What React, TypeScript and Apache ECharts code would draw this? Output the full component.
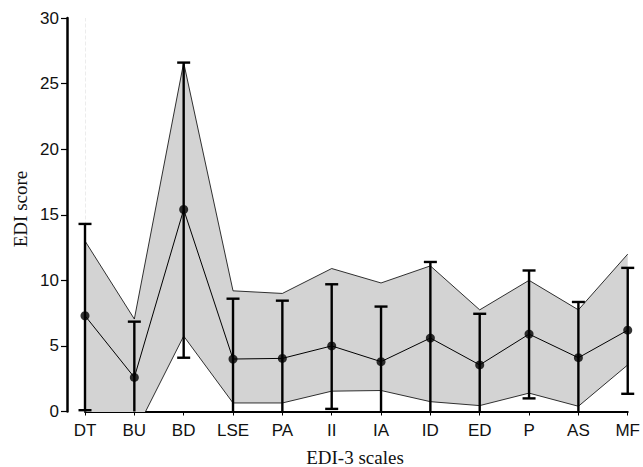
import React, { useEffect, useRef } from "react";
import * as echarts from "echarts";

const categories = ["DT", "BU", "BD", "LSE", "PA", "II", "IA", "ID", "ED", "P", "AS", "MF"];
const meanScores = [7.3, 2.6, 15.4, 4.0, 4.05, 5.0, 3.8, 5.6, 3.55, 5.9, 4.1, 6.2];
const errUpper = [14.3, 6.85, 26.6, 8.6, 8.45, 9.7, 8.0, 11.4, 7.45, 10.75, 8.35, 10.95];
const errLower = [0.1, -1.6, 4.1, -0.5, -0.3, 0.2, -0.4, -0.2, -0.3, 1.0, -0.1, 1.35];
const normUpper = [13.0, 7.05, 26.6, 9.2, 9.0, 10.9, 9.8, 11.1, 7.75, 10.0, 7.75, 12.0];
const normLower = [0, -1.7, 5.75, 0.65, 0.65, 1.55, 1.6, 0.75, 0.45, 1.4, 0.4, 3.55];
const yTicks = { min: 0, max: 30, interval: 5 };

const SANS = "'Liberation Sans', Arial, Helvetica, sans-serif";
const SERIF = "'Liberation Serif', 'Times New Roman', serif";

export default function App() {
  const ref = useRef<HTMLDivElement>(null);

  useEffect(() => {
    document.body.style.margin = "0";
    if (!ref.current) return;
    const chart = echarts.init(ref.current, undefined, { renderer: "svg" });

    const bandDiff = normUpper.map((u, i) => +(u - normLower[i]).toFixed(3));
    const errData = categories.map((_, i) => [i, errLower[i], errUpper[i]]);

    chart.setOption({
      animation: false,
      backgroundColor: "#fff",
      grid: { left: 85, right: 13, top: 18, bottom: 55.5, containLabel: false },
      xAxis: {
        type: "category",
        data: categories,
        boundaryGap: false,
        axisLine: { show: true, lineStyle: { color: "#000", width: 2 } },
        axisTick: { show: true, length: 4, lineStyle: { color: "#000", width: 1 } },
        axisLabel: { color: "#111", fontFamily: SANS, fontSize: 17, margin: 10 },
        splitLine: { show: false },
      },
      yAxis: {
        type: "value",
        min: yTicks.min,
        max: yTicks.max,
        interval: yTicks.interval,
        offset: 18,
        axisLine: { show: true, lineStyle: { color: "#000", width: 2.5 } },
        axisTick: { show: true, length: 6, lineStyle: { color: "#000", width: 1.2 } },
        axisLabel: { color: "#111", fontFamily: SANS, fontSize: 17, margin: 8 },
        splitLine: { show: false },
      },
      graphic: [
        {
          type: "text",
          x: 20,
          y: 209,
          rotation: Math.PI / 2,
          style: {
            text: "EDI score",
            fontFamily: SERIF,
            fontSize: 19,
            fill: "#111111",
            align: "center",
            verticalAlign: "middle",
          },
        },
        {
          type: "text",
          x: 355,
          y: 457,
          style: {
            text: "EDI-3 scales",
            fontFamily: SERIF,
            fontSize: 19,
            fill: "#111111",
            align: "center",
            verticalAlign: "middle",
          },
        },
      ],
      series: [
        {
          type: "line",
          data: [],
          z: 0,
          silent: true,
          markLine: {
            silent: true,
            symbol: "none",
            z: 0,
            label: { show: false },
            lineStyle: { color: "#ececec", type: "dashed", width: 1 },
            data: [{ xAxis: "DT" }],
          },
        },
        {
          name: "lower",
          type: "line",
          data: normLower,
          stack: "band",
          stackStrategy: "all",
          symbol: "none",
          z: 6,
          lineStyle: { color: "#000", width: 0.8 },
        },
        {
          name: "upper",
          type: "line",
          data: bandDiff,
          stack: "band",
          stackStrategy: "all",
          symbol: "none",
          z: 6,
          lineStyle: { color: "#000", width: 0.8 },
          areaStyle: { color: "#d3d3d3", opacity: 1 },
        },
        {
          name: "mean",
          type: "line",
          data: meanScores,
          symbol: "none",
          z: 7,
          lineStyle: { color: "#000", width: 1 },
        },
        {
          name: "error",
          type: "custom",
          data: errData,
          z: 10,
          clip: false,
          encode: { x: 0, y: [1, 2] },
          renderItem: (params: any, api: any) => {
            const idx = api.value(0);
            const lo = api.value(1);
            const hi = api.value(2);
            const top = api.coord([idx, hi]);
            const bot = api.coord([idx, Math.max(lo, 0)]);
            const half = 6.5;
            const style = { stroke: "#000", lineWidth: 2.4 };
            const children: any[] = [
              { type: "line", shape: { x1: top[0], y1: top[1], x2: bot[0], y2: bot[1] }, style },
              { type: "line", shape: { x1: top[0] - half, y1: top[1], x2: top[0] + half, y2: top[1] }, style },
            ];
            if (lo >= 0) {
              children.push({
                type: "line",
                shape: { x1: bot[0] - half, y1: bot[1], x2: bot[0] + half, y2: bot[1] },
                style,
              });
            }
            return { type: "group", children };
          },
        },
        {
          name: "meanDots",
          type: "scatter",
          data: meanScores,
          symbol: "circle",
          symbolSize: 9,
          z: 11,
          clip: false,
          itemStyle: { color: "#000" },
        },
      ],
    });

    return () => chart.dispose();
  }, []);

  return <div ref={ref} style={{ width: 643, height: 467 }} />;
}
